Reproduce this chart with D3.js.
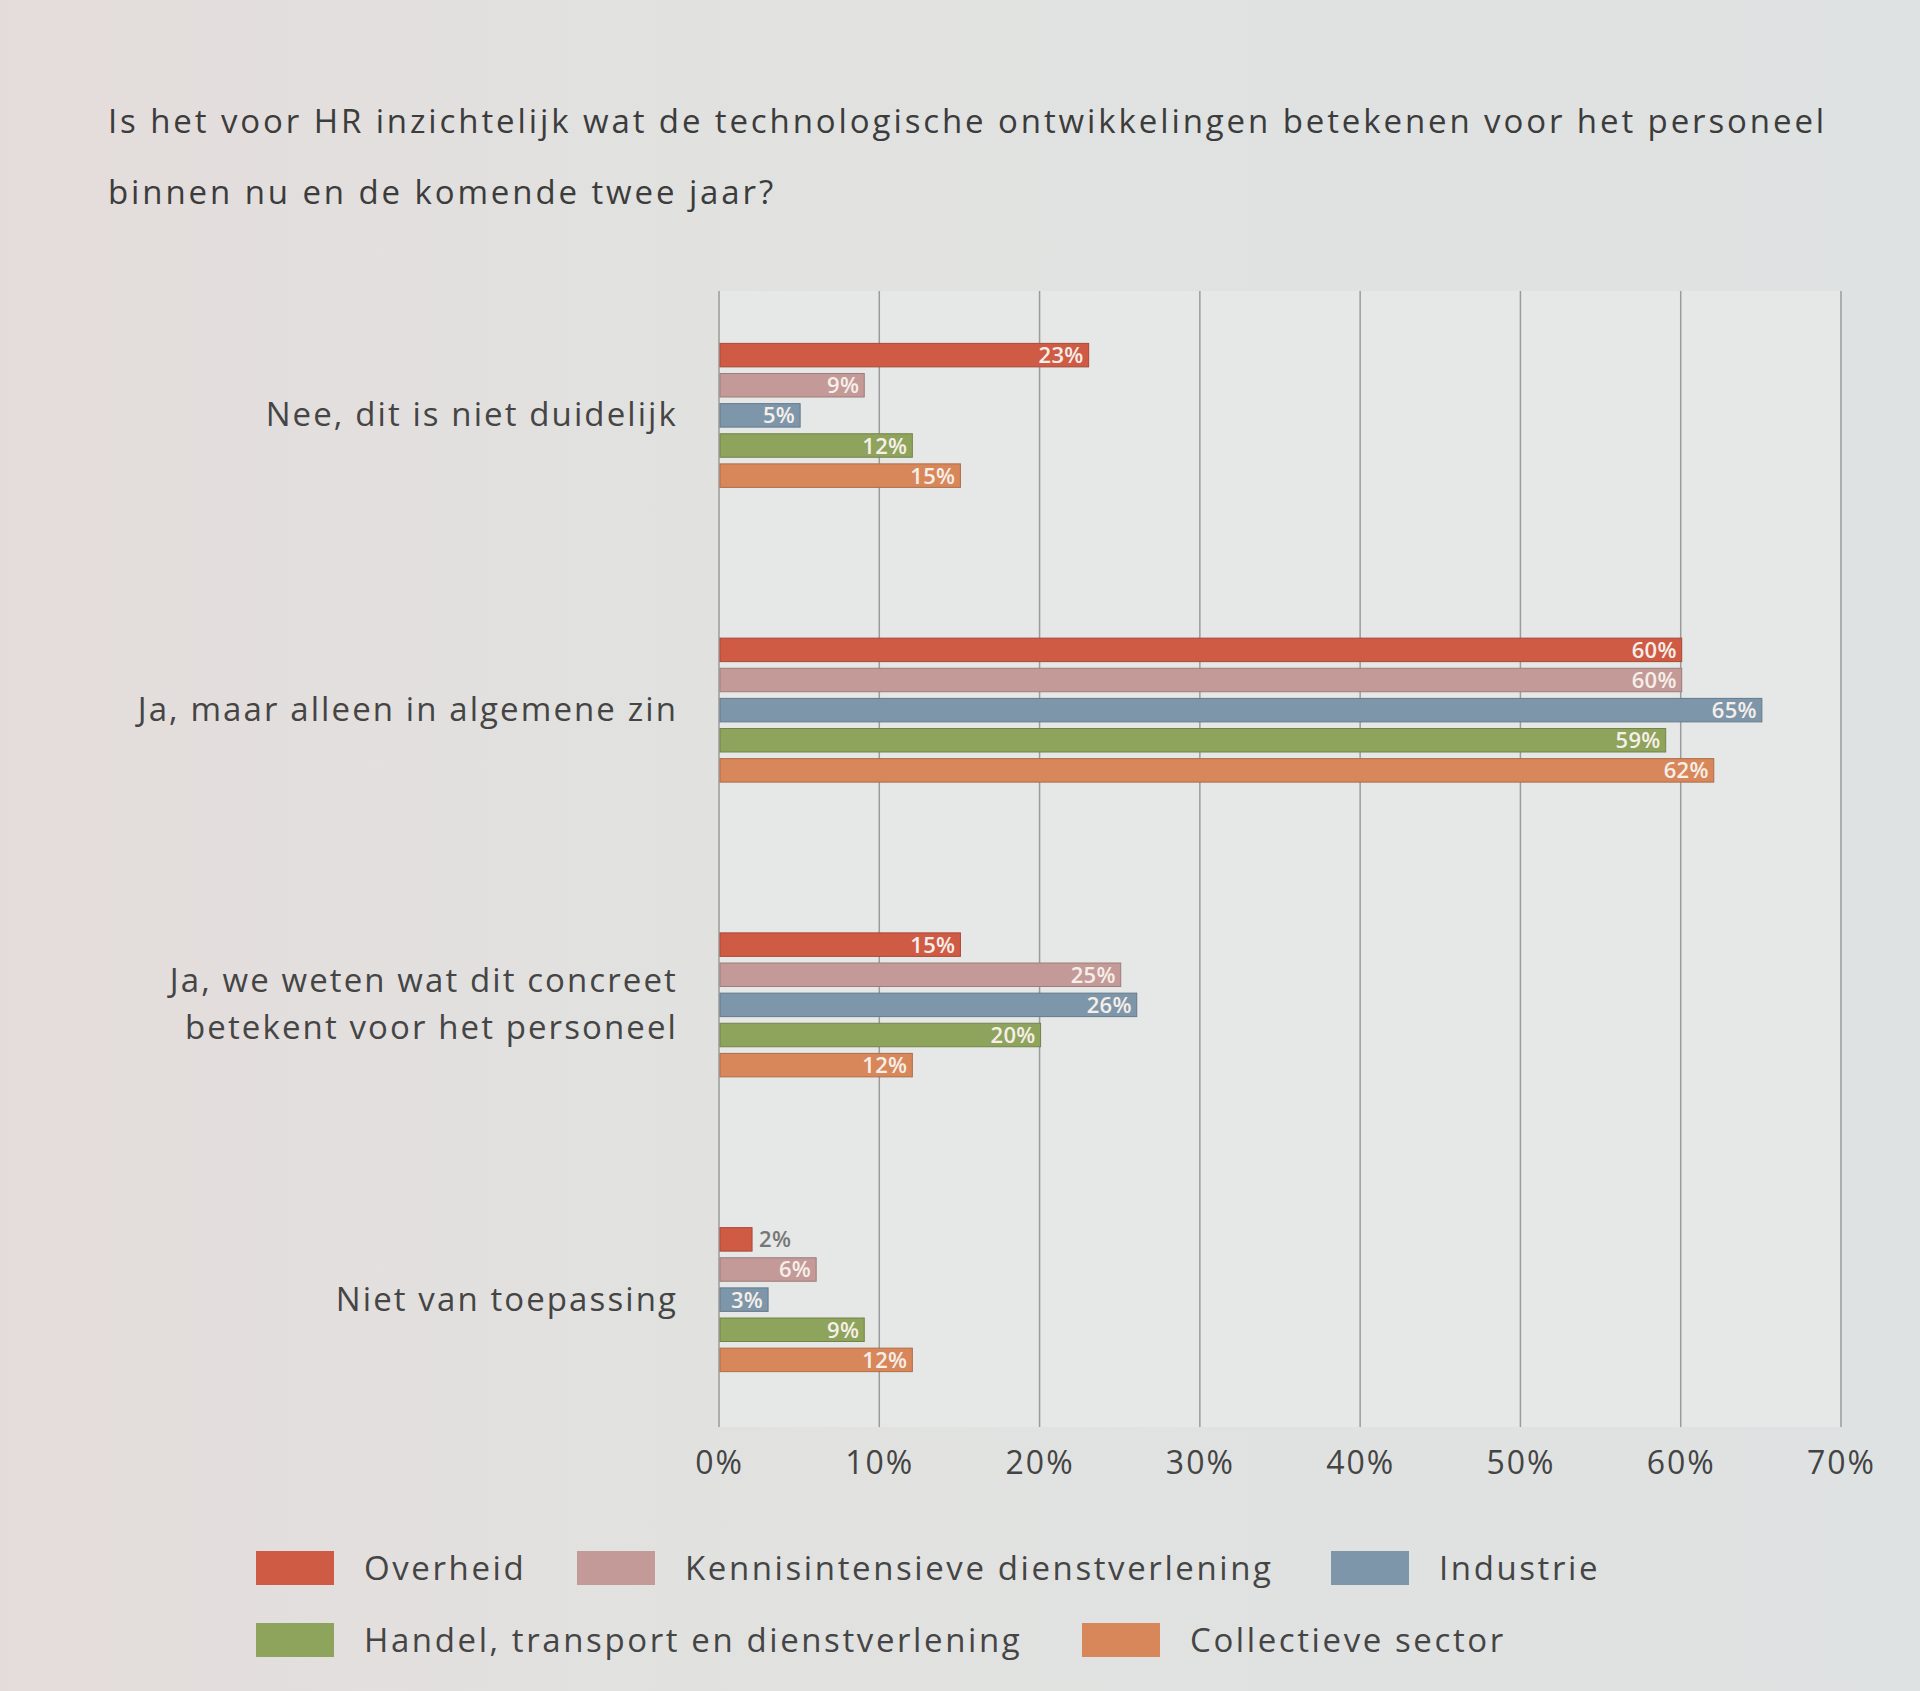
<!DOCTYPE html>
<html lang="nl">
<head>
<meta charset="UTF-8">
<title>HR en technologische ontwikkelingen</title>
<script src="https://d3js.org/d3.v7.min.js"></script>
<style>
  body { margin: 0; background: #e0e2e1; }
  svg { display: block; font-family: "Open Sans", "Noto Sans", sans-serif; }
</style>
</head>
<body>
<div id="chart"></div>
<script>
// categories (top to bottom)
var categories = [
  ["Nee, dit is niet duidelijk"],
  ["Ja, maar alleen in algemene zin"],
  ["Ja, we weten wat dit concreet", "betekent voor het personeel"],
  ["Niet van toepassing"]
]
var series = ["Overheid", "Kennisintensieve dienstverlening", "Industrie", "Handel, transport en dienstverlening", "Collectieve sector"]
var colors = ["#cf5b45", "#c39a97", "#7e96aa", "#8ea35b", "#d8875a"]

// values per series, in the order of the categories
var overheid    = [23, 60, 15, 2]
var kennis      = [9, 60, 25, 6]
var industrie   = [5, 65, 26, 3]
var handel      = [12, 59, 20, 9]
var collectief  = [15, 62, 12, 12]
var values = [overheid, kennis, industrie, handel, collectief]

var xTicks = [0, 10, 20, 30, 40, 50, 60, 70]

var width = 1920, height = 1691

var svg = d3.select("#chart").append("svg")
  .attr("width", width)
  .attr("height", height)

// soft background, a bit warmer on the left like the projected slide
var defs = svg.append("defs")
var grad = defs.append("linearGradient").attr("id", "bg").attr("x1", 0).attr("x2", 1)
grad.append("stop").attr("offset", "0%").attr("stop-color", "#e4dcdb")
grad.append("stop").attr("offset", "35%").attr("stop-color", "#e1e2e0")
grad.append("stop").attr("offset", "100%").attr("stop-color", "#dfe2e2")
svg.append("rect").attr("width", width).attr("height", height).attr("fill", "url(#bg)")

// title
var title = svg.append("text")
  .attr("x", 108)
  .attr("font-size", 33)
  .attr("font-weight", 500)
  .attr("letter-spacing", 2.9)
  .attr("fill", "#3c3c3c")
title.append("tspan").attr("x", 108).attr("y", 133)
  .text("Is het voor HR inzichtelijk wat de technologische ontwikkelingen betekenen voor het personeel")
title.append("tspan").attr("x", 108).attr("y", 204)
  .text("binnen nu en de komende twee jaar?")

// scales
var x = d3.scaleLinear().domain([0, 70]).range([719, 1841])
var y = d3.scaleBand().domain(d3.range(categories.length)).range([268, 1447])
var ySub = d3.scaleBand().domain(d3.range(series.length)).range([0, 144]).paddingInner(0.22)

// light plot panel
svg.append("rect")
  .attr("x", x(0)).attr("y", 291)
  .attr("width", x(70) - x(0)).attr("height", 1427 - 291)
  .attr("fill", "#e6e8e7")

// grid lines
svg.append("g").selectAll("line")
  .data(xTicks)
  .join("line")
  .attr("x1", d => x(d)).attr("x2", d => x(d))
  .attr("y1", 291).attr("y2", 1427)
  .attr("stroke", "#9a9c9b")
  .attr("stroke-width", 1.5)

// x axis labels
var xAxis = d3.axisBottom(x).tickValues(xTicks).tickFormat(d => d + "%").tickSize(0).tickPadding(24)
var gx = svg.append("g").attr("transform", "translate(0,1427)").call(xAxis)
gx.select(".domain").remove()
gx.selectAll("text")
  .attr("font-size", 32)
  .attr("font-family", "\"Open Sans\", sans-serif")
  .attr("letter-spacing", 2)
  .attr("fill", "#444")

// category labels
var catG = svg.append("g")
categories.forEach(function(lines, i) {
  var cy = y(i) + y.bandwidth() / 2
  var t = catG.append("text")
    .attr("text-anchor", "end")
    .attr("font-size", 33)
    .attr("letter-spacing", 2.1)
    .attr("fill", "#454545")
  lines.forEach(function(l, j) {
    t.append("tspan")
      .attr("x", 678)
      .attr("y", cy + 11 + (j - (lines.length - 1) / 2) * 47)
      .text(l)
  })
})

// bars
var groups = svg.append("g").selectAll("g")
  .data(categories.map((c, i) => i))
  .join("g")
  .attr("transform", d => "translate(0," + (y(d) + (y.bandwidth() - 144) / 2) + ")")

groups.each(function(ci) {
  var g = d3.select(this)
  series.forEach(function(s, si) {
    var v = values[si][ci]
    var by = ySub(si)
    var bw = x(v) - x(0)
    g.append("rect")
      .attr("x", x(0) + 1)
      .attr("y", by)
      .attr("width", bw)
      .attr("height", ySub.bandwidth())
      .attr("fill", colors[si])
      .attr("stroke", d3.color(colors[si]).darker(0.6))
      .attr("stroke-width", 1)
    var inside = bw > 45
    g.append("text")
      .attr("x", inside ? x(v) - 4 : x(v) + 8)
      .attr("y", by + ySub.bandwidth() / 2 + 8)
      .attr("text-anchor", inside ? "end" : "start")
      .attr("font-size", 22)
      .attr("font-weight", 600)
      .attr("letter-spacing", 0.3)
      .attr("fill", inside ? "#f6efe9" : "#777")
      .text(v + "%")
  })
})

// legend
var legendPos = [
  [256, 1568], [577, 1568], [1331, 1568],
  [256, 1640], [1082, 1640]
]
var lg = svg.append("g")
series.forEach(function(s, i) {
  var p = legendPos[i]
  lg.append("rect")
    .attr("x", p[0]).attr("y", p[1] - 17)
    .attr("width", 78).attr("height", 34)
    .attr("fill", colors[i])
  lg.append("text")
    .attr("x", p[0] + 108)
    .attr("y", p[1] + 12)
    .attr("font-size", 33)
    .attr("letter-spacing", 2.6)
    .attr("fill", "#454545")
    .text(s)
})
</script>
</body>
</html>
